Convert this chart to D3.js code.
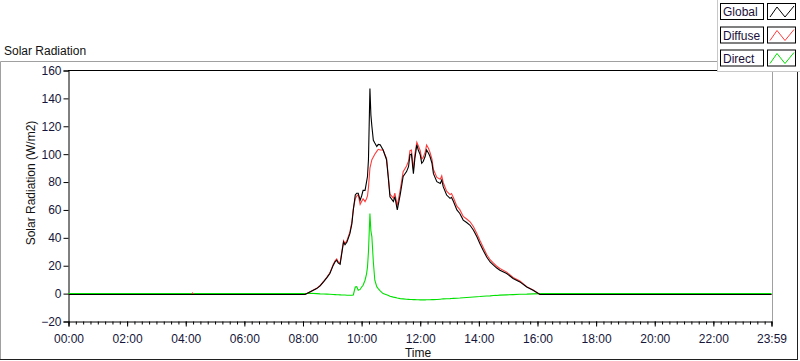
<!DOCTYPE html>
<html><head><meta charset="utf-8">
<script src="https://cdn.jsdelivr.net/npm/d3@7/dist/d3.min.js"></script>
<style>
html,body{margin:0;padding:0;background:#fff;}
svg{display:block;font-family:"Liberation Sans",Arial,sans-serif;}
</style></head>
<body>
<svg id="chart" width="800" height="361"></svg>
<script>
const times = ["00:00","04:12","04:14","04:16","08:04","08:14","08:28","08:35","08:42","08:49","08:55","09:02","09:06","09:09","09:12","09:16","09:19","09:23","09:26","09:30","09:33","09:36","09:40","09:43","09:47","09:50","09:53","09:57","10:00","10:03","10:07","10:10","10:12","10:14","10:17","10:19","10:21","10:24","10:27","10:31","10:34","10:38","10:44","10:51","10:55","10:58","11:05","11:08","11:13","11:19","11:25","11:32","11:36","11:39","11:42","11:46","11:49","11:53","11:56","12:00","12:03","12:06","12:10","12:13","12:17","12:20","12:24","12:27","12:34","12:41","12:44","12:47","12:54","13:01","13:04","13:08","13:15","13:21","13:28","13:35","13:42","13:49","13:56","14:02","14:09","14:16","14:23","14:30","14:36","14:43","14:57","15:10","15:24","15:38","15:51","16:05","16:15","23:59"];
const globalVals = [-0.6,-0.6,-0.6,-0.6,-0.6,1.2,3.6,5.5,8.4,11.5,14.4,20.4,23,24,22,21,28,37,35,37,40,43,50,60,70.7,72,72,67,70,74,74,80,84,96,147,128,120,110,108,105.5,107,106.7,103,96,81.5,69.5,66,69.5,60,71,84,87.5,91,99.5,100,86,97,106.7,103,99.5,93.5,94.7,98.3,103,100.7,98.3,93.5,86,80.3,79,81.5,76.7,70.7,68.3,69,66,60,57.5,52.7,51,49,45.5,40.7,36,31,26.3,22.7,20.4,18.5,16.8,14.4,10.8,8.4,4.7,2.4,-0.6,-0.6,-0.6];
const diffuseVals = [-0.6,-0.6,0.4,-0.6,-0.6,1.2,3.8,5.8,8.7,11.9,14.9,21,23.7,24.8,22.8,21.9,29,38,36,38,41.2,44.2,51.2,61,68,70,71,64,66,68,66,68,70,76,90,93,96,98,100,102,103.5,103,103,97,83,71.4,68.5,72,63,74.5,87.5,91.5,95,102.5,103,89,100,108.5,106,102.5,96.5,97.7,101.3,106.5,104,101.3,96.5,89,83.3,82,84.5,79.7,73.5,71,71.8,68.8,62.7,60.2,55.3,53.5,51.5,48,43,38.2,33,28,24.3,21.8,19.8,18,15.4,11.6,9,5,2.6,-0.6,-0.6,-0.6];
const directVals = [0,0,0,0,0,0.3,0,-0.2,-0.3,-0.4,-0.5,-0.6,-0.7,-0.8,-0.8,-0.9,-1,-1,-1,-1.2,-1.2,-1.2,-1.2,-1,4.7,5,2.4,3,4.7,6,9.6,14,19,30,57.5,45,40.7,22.7,9.6,5,3.6,2,0,-0.8,-1.3,-1.9,-2.5,-2.7,-3.2,-3.6,-3.8,-4,-4.1,-4.2,-4.2,-4.3,-4.3,-4.4,-4.4,-4.5,-4.5,-4.5,-4.5,-4.4,-4.4,-4.4,-4.3,-4.3,-4.2,-4,-3.9,-3.8,-3.7,-3.6,-3.5,-3.4,-3.3,-3.2,-3,-2.8,-2.6,-2.4,-2.2,-2.1,-1.9,-1.7,-1.6,-1.4,-1.3,-1.1,-0.9,-0.7,-0.5,-0.4,-0.2,0,0,0];
const seriesNames = ["Global","Diffuse","Direct"];
const seriesColors = ["#000000","#ff3c3c","#00e000"];
const xTickLabels = ["00:00","02:00","04:00","06:00","08:00","10:00","12:00","14:00","16:00","18:00","20:00","22:00","23:59"];
const yTicks = [-20,0,20,40,60,80,100,120,140,160];
const chartTitle = "Solar Radiation";
const yTitle = "Solar Radiation (W/m2)";
const xTitle = "Time";

const toMin = s => { const [h,m] = s.split(":").map(Number); return h*60+m; };
const svg = d3.select("#chart");
const x = d3.scaleLinear().domain([0,1439]).range([68.5,771.5]);
const y = d3.scaleLinear().domain([-20,160]).range([321.5,70.5]);
const labelColor = "#16163a";

// outer frame
svg.append("line").attr("x1",0.5).attr("x2",717).attr("y1",61.5).attr("y2",61.5).attr("stroke","#a0a0a0");
svg.append("line").attr("x1",0.5).attr("x2",0.5).attr("y1",61.5).attr("y2",360).attr("stroke","#a0a0a0");
svg.append("line").attr("x1",0).attr("x2",798).attr("y1",359.5).attr("y2",359.5).attr("stroke","#202020");
svg.append("line").attr("x1",797.5).attr("x2",797.5).attr("y1",61).attr("y2",360).attr("stroke","#202020");

svg.append("text").attr("x",4).attr("y",55).attr("font-size",12).attr("fill","#111").text(chartTitle);

// plot borders
svg.append("line").attr("x1",68).attr("x2",772).attr("y1",70.5).attr("y2",70.5).attr("stroke","#000");
svg.append("line").attr("x1",772.5).attr("x2",772.5).attr("y1",70).attr("y2",322).attr("stroke","#a0a0a0");

// y axis
const yAxis = d3.axisLeft(y).tickValues(yTicks).tickSize(5).tickPadding(2).tickFormat(d3.format("d"));
const gy = svg.append("g").attr("transform","translate(68.5,0)").call(yAxis);
gy.select(".domain").attr("stroke","#000");
gy.selectAll(".tick line").attr("stroke","#000");
gy.selectAll("text").attr("font-size",12).attr("fill",labelColor).attr("font-family","Liberation Sans, Arial, sans-serif");

// x axis minor ticks
const minorTicks = d3.range(0,1439,15).concat([1439]);
const majorVals = xTickLabels.map(toMin);
const gxm = svg.append("g").attr("transform","translate(0,321.5)")
  .call(d3.axisBottom(x).tickValues(minorTicks).tickSize(3).tickFormat(""));
gxm.select(".domain").remove();
gxm.selectAll(".tick line").attr("stroke","#000");
const gx = svg.append("g").attr("transform","translate(0,321.5)")
  .call(d3.axisBottom(x).tickValues(majorVals).tickSize(5).tickPadding(8).tickFormat((d,i)=>xTickLabels[i]));
gx.select(".domain").attr("stroke","#000");
gx.selectAll(".tick line").attr("stroke","#000");
gx.selectAll("text").attr("font-size",12).attr("fill",labelColor).attr("font-family","Liberation Sans, Arial, sans-serif");

// titles
svg.append("text").attr("transform","translate(35,183) rotate(-90)").attr("text-anchor","middle")
  .attr("font-size",12).attr("fill","#111").text(yTitle);
svg.append("text").attr("x",418).attr("y",357).attr("text-anchor","middle")
  .attr("font-size",12).attr("fill","#111").text(xTitle);

// lines
const tmins = times.map(toMin);
const allVals = [globalVals, diffuseVals, directVals];
const line = d3.line().x(d=>x(d[0])).y(d=>y(d[1]));
[2,1,0].forEach(i => {
  const pts = tmins.map((t,j)=>[t, allVals[i][j]]);
  svg.append("path").datum(pts).attr("d",line).attr("fill","none")
    .attr("stroke",seriesColors[i]).attr("stroke-width",1.1).attr("stroke-linejoin","miter");
});

// legend panel
const lg = svg.append("g");
lg.append("rect").attr("x",717).attr("y",0).attr("width",83).attr("height",71).attr("fill","#fff");
lg.append("line").attr("x1",717.5).attr("x2",717.5).attr("y1",0).attr("y2",72).attr("stroke","#c8c8c8");
lg.append("line").attr("x1",717).attr("x2",800).attr("y1",71.5).attr("y2",71.5).attr("stroke","#c8c8c8");
const rowTop = [3,26.5,49.5];
seriesNames.forEach((name,i)=>{
  const t = rowTop[i];
  lg.append("rect").attr("x",720.5).attr("y",t+0.5).attr("width",43).attr("height",16).attr("fill","#fff").attr("stroke","#000");
  lg.append("text").attr("x",723).attr("y",t+13).attr("font-size",12).attr("fill","#1a0f3a").text(name);
  lg.append("rect").attr("x",767.5).attr("y",t+0.5).attr("width",28).attr("height",16).attr("fill","#fff").attr("stroke","#000");
  lg.append("path").attr("d",d3.line()([[770,t+14],[777,t+4],[785,t+14],[794,t+3]]))
    .attr("fill","none").attr("stroke",seriesColors[i]).attr("stroke-width",1);
});
</script>
</body></html>
